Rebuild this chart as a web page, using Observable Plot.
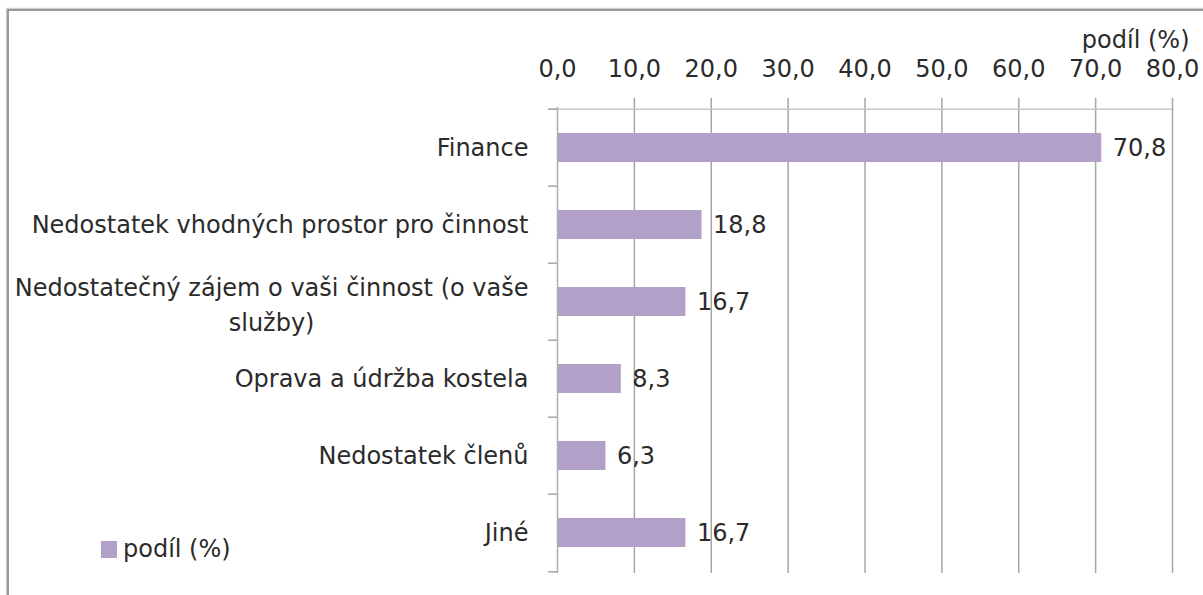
<!DOCTYPE html>
<html>
<head>
<meta charset="utf-8">
<script src="https://cdn.jsdelivr.net/npm/d3@7"></script>
<script src="https://cdn.jsdelivr.net/npm/@observablehq/plot@0.6"></script>
<style>
  html, body { margin: 0; padding: 0; background: #fff; }
  body { width: 1203px; height: 595px; overflow: hidden; position: relative; font-family: "DejaVu Sans", sans-serif; }
  #frame { position: absolute; left: 7px; top: 9px; width: 1400px; height: 800px;
           border-left: 2px solid #9a9a9a; border-top: 2px solid #9a9a9a; box-shadow: -1px -1px 1px #d0d0d0; }
  #chart { position: absolute; left: 0; top: 0; }
  #legend { position: absolute; left: 101px; top: 535px; font-size: 24px; color: #2b2b2b;
            display: flex; align-items: center; white-space: nowrap; }
  #legend .sw { display: inline-block; width: 16px; height: 17px; background: #b1a0c7; margin-right: 6px; }
</style>
</head>
<body>
<div id="frame"></div>
<div id="chart"></div>
<div id="legend"><span class="sw"></span><span id="legendText"></span></div>
<script>
// ---- data ----
const categories = [
  "Finance",
  "Nedostatek vhodných prostor pro činnost",
  "Nedostatečný zájem o vaši činnost (o vaše služby)",
  "Oprava a údržba kostela",
  "Nedostatek členů",
  "Jiné"
];
const labelLines = [
  "Finance",
  "Nedostatek vhodných prostor pro činnost",
  "Nedostatečný zájem o vaši činnost (o vaše\nslužby)",
  "Oprava a údržba kostela",
  "Nedostatek členů",
  "Jiné"
];
const values = [70.8, 18.8, 16.7, 8.3, 6.3, 16.7];
const xTicks = [0, 10, 20, 30, 40, 50, 60, 70, 80];
const seriesName = "podíl (%)";

// ---- styling ----
const FONT = "DejaVu Sans";
const FS = 24;
const W = 1203, H = 595;
const mTop = 107, mBottom = 22, mLeft = 557, mRight = 31;
const bw = (H - mTop - mBottom) / categories.length;
const fmt = d => d.toFixed(1).replace(".", ",");

const data = categories.map((c, i) => ({category: c, value: values[i], label: labelLines[i]}));
const single = data.filter(d => !d.label.includes("\n"));
const multi = data.filter(d => d.label.includes("\n"));

// measure first line of wrapped label so the block is centred like Excel's
const ctx = document.createElement("canvas").getContext("2d");
ctx.font = `${FS}px "${FONT}"`;
const labelGap = 29;
const multiDx = multi.map(d => -labelGap - ctx.measureText(d.label.split("\n")[0]).width / 2);

document.getElementById("legendText").textContent = seriesName;

const chart = Plot.plot({
  width: W, height: H,
  marginTop: mTop, marginBottom: mBottom, marginLeft: mLeft, marginRight: mRight,
  style: {fontFamily: FONT, fontSize: FS + "px", color: "#2b2b2b", background: "transparent", overflow: "visible"},
  x: {domain: [0, 80], axis: null},
  y: {domain: categories, padding: 0, axis: null},
  marks: [
    // vertical gridlines (extend above as tick marks)
    Plot.ruleX(xTicks.filter(d => d > 0), {stroke: "#a6a6a6", strokeWidth: 1.5, insetTop: -9}),
    // top axis line
    Plot.ruleY([categories[0]], {x1: 0, x2: 80, insetLeft: -9, dy: -bw / 2, stroke: "#c8c8c8", strokeWidth: 1.5}),
    // bars
    Plot.barX(data, {x: "value", y: "category", fill: "#b1a0c7", insetTop: 24, insetBottom: 24}),
    // left axis line
    Plot.ruleX([0], {stroke: "#b0b0b0", strokeWidth: 1.5}),
    // category separator ticks
    Plot.ruleY(categories, {x1: 0, x2: 0, insetLeft: -9, dy: -bw / 2, stroke: "#a6a6a6", strokeWidth: 1.5}),
    Plot.ruleY([categories[categories.length - 1]], {x1: 0, x2: 0, insetLeft: -9, dy: bw / 2, stroke: "#a6a6a6", strokeWidth: 1.5}),
    // tick labels
    Plot.text(xTicks, {x: d => d, text: fmt, frameAnchor: "top", lineAnchor: "middle", dy: -38, fill: "#2b2b2b"}),
    // axis title
    Plot.text([seriesName], {frameAnchor: "top-right", lineAnchor: "middle", textAnchor: "end", dx: 17, dy: -67, fill: "#2b2b2b"}),
    // category labels
    Plot.text(single, {x: 0, y: "category", text: "label", textAnchor: "end", dx: -labelGap, fill: "#2b2b2b"}),
    ...multi.map((d, i) => Plot.text([d], {x: 0, y: "category", text: "label", textAnchor: "middle", dx: multiDx[i], lineHeight: 1.45, fill: "#2b2b2b"})),
    // value labels
    Plot.text(data, {x: "value", y: "category", text: d => fmt(d.value), textAnchor: "start", dx: 11, fill: "#2b2b2b"})
  ]
});
document.getElementById("chart").appendChild(chart);
</script>
</body>
</html>
